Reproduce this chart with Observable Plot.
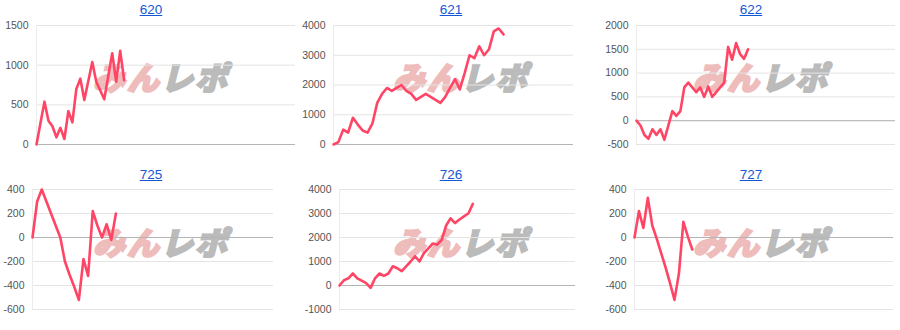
<!DOCTYPE html>
<html>
<head>
<meta charset="utf-8">
<script src="https://cdn.jsdelivr.net/npm/d3@7"></script>
<script src="https://cdn.jsdelivr.net/npm/@observablehq/plot@0.6"></script>
<style>
  html, body { margin: 0; padding: 0; background: #fff; }
  #root { position: relative; width: 900px; height: 330px; overflow: hidden; font-family: Arial, "Liberation Sans", sans-serif; }
  .panel { position: absolute; width: 300px; }
  .title { position: absolute; left: 0; width: 300px; height: 20px; line-height: 20px; text-align: center; font-size: 13.5px; padding-left: 2px; box-sizing: border-box; z-index: 2; }
  .title a { color: #1558d6; text-decoration: underline; }
  .wm { position: absolute; left: 93px; width: 160px; height: 36px; line-height: 36px; font-family: "Noto Sans CJK JP", sans-serif; font-size: 32px; font-weight: 900; font-style: italic; white-space: nowrap; z-index: 0; letter-spacing: 2px; }
  .wm .p { color: #efbcbc; -webkit-text-stroke: 2px #efbcbc; }
  .wm .g { color: #bbbbbb; -webkit-text-stroke: 2px #bbbbbb; }
  .panel svg { position: relative; z-index: 1; }
</style>
</head>
<body>
<div id="root"></div>
<script>
// ---- data ----
const titles = ["620", "621", "622", "725", "726", "727"];

const s620 = [0, 270, 540, 300, 230, 90, 210, 70, 420, 280, 700, 830, 560, 800, 1040, 790, 680, 570, 860, 1150, 790, 1180, 810];
const s621 = [0, 80, 500, 400, 900, 670, 470, 400, 700, 1400, 1700, 1900, 1800, 1900, 2000, 1800, 1700, 1500, 1600, 1700, 1600, 1500, 1400, 1600, 1900, 2200, 1850, 2400, 3000, 2900, 3300, 3000, 3200, 3800, 3900, 3700];
const s622 = [0, -100, -300, -380, -180, -300, -180, -400, -100, 200, 100, 200, 700, 800, 700, 600, 700, 500, 720, 500, 600, 700, 800, 1550, 1280, 1630, 1400, 1300, 1500];
const s725 = [0, 300, 400, 300, 200, 100, 0, -200, -310, -410, -520, -180, -320, 220, 100, 0, 110, -20, 200];
const s726 = [0, 220, 300, 500, 300, 200, 100, -100, 300, 500, 400, 500, 800, 720, 600, 800, 1000, 1220, 1000, 1350, 1550, 1750, 1700, 1900, 2500, 2800, 2600, 2750, 2880, 3000, 3400];
const s727 = [0, 220, 80, 330, 100, -10, -130, -250, -380, -520, -300, 130, 10, -100];

const ticks620 = [0, 500, 1000, 1500];
const ticks621 = [0, 1000, 2000, 3000, 4000];
const ticks622 = [-500, 0, 500, 1000, 1500, 2000];
const ticks725 = [-600, -400, -200, 0, 200, 400];
const ticks726 = [-1000, 0, 1000, 2000, 3000, 4000];
const ticks727 = [-600, -400, -200, 0, 200, 400];

// x extent of each chart (in data-point steps)
const xMax = [65, 49.4, 65, 52, 53.1, 58.3];

const seriesList = [s620, s621, s622, s725, s726, s727];
const tickList = [ticks620, ticks621, ticks622, ticks725, ticks726, ticks727];

// ---- layout (not data) ----
const marginLefts = [36, 33, 36, 32, 39, 34];
const marginRights = [5, 27, 5, 27, 25, 7];

const root = document.getElementById("root");

titles.forEach((t, k) => {
  const row = Math.floor(k / 3), col = k % 3;
  const panel = document.createElement("div");
  panel.className = "panel";
  panel.style.left = (col * 300) + "px";
  panel.style.top = (row === 0 ? 0 : 160) + "px";

  const title = document.createElement("div");
  title.className = "title";
  title.style.top = (row === 0 ? 0 : 5) + "px";
  const a = document.createElement("a");
  a.href = "#";
  a.textContent = t;
  title.appendChild(a);
  panel.appendChild(title);

  const wm = document.createElement("div");
  wm.className = "wm";
  wm.style.top = (row === 0 ? 58 : 63) + "px";
  wm.innerHTML = '<span class="p">みん</span><span class="g">レポ</span>';
  panel.appendChild(wm);

  const ticks = tickList[k];
  const data = seriesList[k];
  const chart = Plot.plot({
    width: 300,
    height: row === 0 ? 160 : 170,
    marginTop: row === 0 ? 25 : 29,
    marginBottom: row === 0 ? 16 : 21,
    marginLeft: marginLefts[k],
    marginRight: marginRights[k],
    style: { background: "transparent", fontFamily: "Arial, 'Liberation Sans', sans-serif" },
    x: { domain: [0, xMax[k]], axis: null },
    y: { domain: [ticks[0], ticks[ticks.length - 1]], axis: null },
    marks: [
      Plot.gridY(ticks, { stroke: "#e4e4e4", strokeOpacity: 1 }),
      Plot.ruleX([0], { stroke: "#ececec" }),
      Plot.ruleY([0], { stroke: "#b4b4b4" }),
      Plot.axisY(ticks, { tickSize: 0, tickPadding: 8, fill: "#555", fontSize: 10.5, tickFormat: d => String(d).replace("−", "-") }),
      Plot.line(data, { x: (d, i) => i, y: d => d, stroke: "#ff4565", strokeWidth: 2.6, strokeLinejoin: "round" })
    ]
  });
  panel.appendChild(chart);
  root.appendChild(panel);
});
</script>
</body>
</html>
